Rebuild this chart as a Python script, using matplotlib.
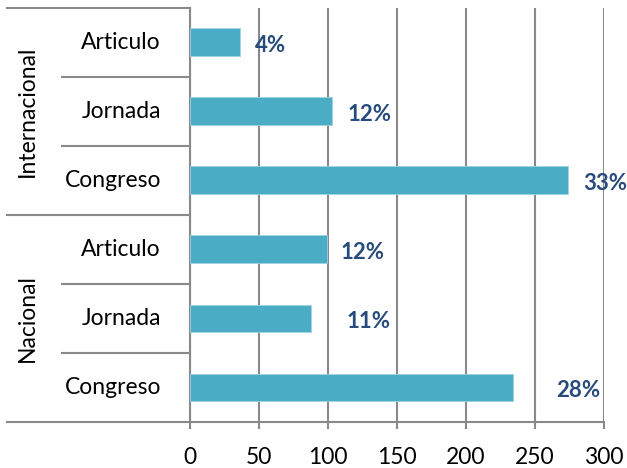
import matplotlib.pyplot as plt
import matplotlib.transforms as mtransforms

groups = ["Internacional", "Nacional"]
categories = ["Articulo", "Jornada", "Congreso", "Articulo", "Jornada", "Congreso"]
values = [36, 103, 274, 99, 88, 234]
pct_labels = ["4%", "12%", "33%", "12%", "11%", "28%"]
label_offsets_px = [15, 15, 15, 14, 35, 43]
xticks = [0, 50, 100, 150, 200, 250, 300]

bar_color = "#4BACC6"
label_color = "#264B7C"
grid_color = "#898989"

plt.rcParams["font.family"] = ["Lato", "DejaVu Sans"]

fig = plt.figure(figsize=(6.27, 4.68), dpi=100)
ax = fig.add_axes([190 / 627, 46 / 468, 414 / 627, 414.5 / 468])

ypos = list(range(len(categories)))
ax.barh(ypos, values, height=0.4, color=bar_color, edgecolor="#9DD3E2", linewidth=0.6, zorder=3)

ax.set_xlim(0, 300)
ax.set_ylim(len(categories) - 0.5, -0.5)
ax.set_xticks(xticks)
ax.set_yticks([])
ax.grid(axis="x", color=grid_color, linewidth=1.5, zorder=0)
ax.tick_params(axis="x", length=5, width=1.5, color=grid_color, pad=13, labelsize=16.5, labelcolor="black")
for s in ["top", "right"]:
    ax.spines[s].set_visible(False)
for s in ["left", "bottom"]:
    ax.spines[s].set_color(grid_color)
    ax.spines[s].set_linewidth(1.5)

# percentage labels
for y, v, lab, off in zip(ypos, values, pct_labels, label_offsets_px):
    ax.annotate(lab, (v, y), xytext=(off, -3), textcoords="offset pixels",
                ha="left", va="center", fontsize=16, fontweight="bold", color=label_color)

# hierarchical category axis on the left
trans = mtransforms.blended_transform_factory(ax.transAxes, ax.transData)
inner_x = (62 - 190) / 414
outer_x = (7 - 190) / 414
for y in [0.5, 1.5, 3.5, 4.5]:
    ax.plot([inner_x, 0], [y, y], transform=trans, color=grid_color, lw=1.5, clip_on=False)
for y in [-0.5, 2.5, 5.5]:
    ax.plot([outer_x, 0], [y, y], transform=trans, color=grid_color, lw=1.5, clip_on=False)

for y, cat in zip(ypos, categories):
    ax.text((161 - 190) / 414, y, cat, transform=trans, ha="right", va="center", fontsize=16.5)

for i, g in enumerate(groups):
    ax.text((27 - 190) / 414, 3 * i + 1, g, transform=trans, ha="center", va="center",
            rotation=90, fontsize=16.5)

fig.savefig("out.png", dpi=100)
